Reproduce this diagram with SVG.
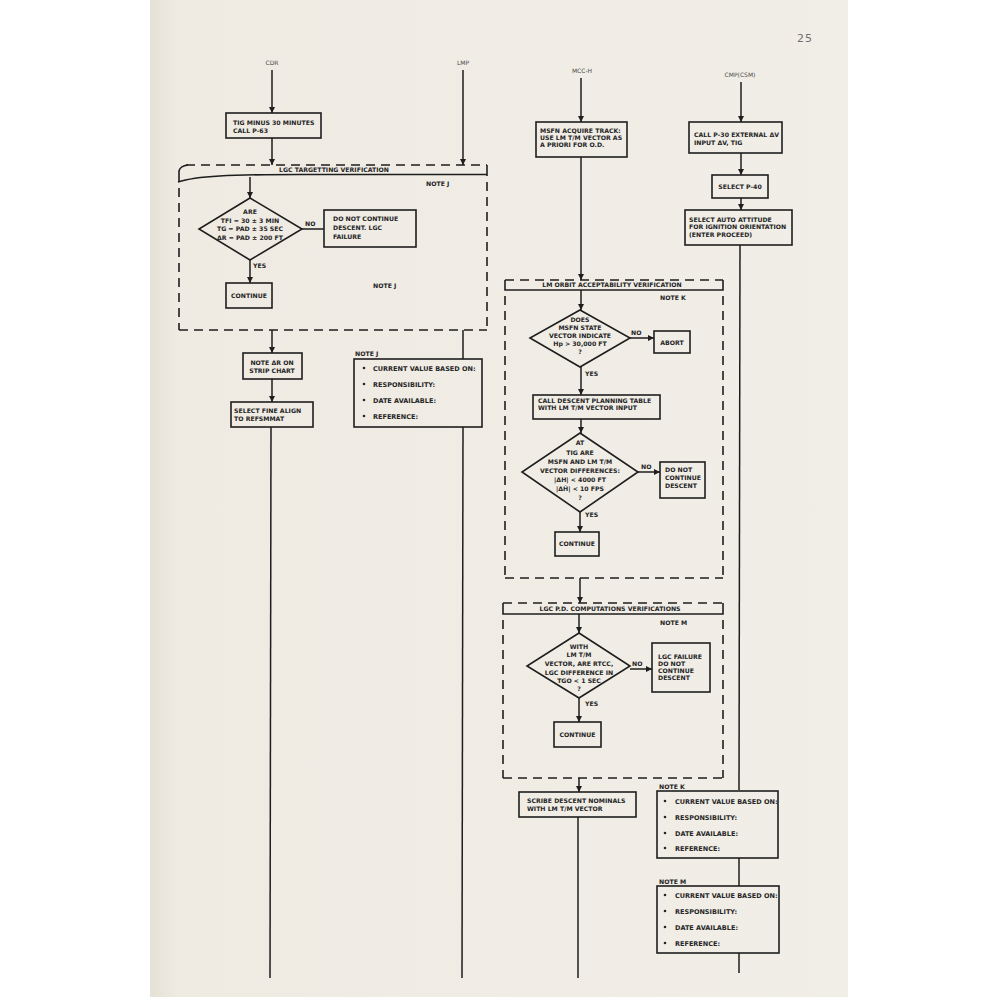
<svg xmlns="http://www.w3.org/2000/svg" width="1000" height="1000" viewBox="0 0 1000 1000">
<defs>
<marker id="arr" markerUnits="userSpaceOnUse" markerWidth="8" markerHeight="8" refX="6" refY="3" orient="auto">
<path d="M0,0 L6,3 L0,6 z" fill="#1e1e1e"/>
</marker>
<linearGradient id="shade" x1="0" x2="1" y1="0" y2="0">
<stop offset="0" stop-color="#e6e1d6"/>
<stop offset="0.04" stop-color="#efebe3"/>
<stop offset="1" stop-color="#f1eee7"/>
</linearGradient>
</defs>
<style>
.t{font-family:"DejaVu Sans","Liberation Sans",sans-serif;font-weight:bold;font-size:6.2px;fill:#262626}
.n{font-size:6.5px}
.c{text-anchor:middle}
.lab{font-family:"DejaVu Sans","Liberation Sans",sans-serif;font-size:6px;fill:#4a4a4a;text-anchor:middle}
.box{fill:none;stroke:#1e1e1e;stroke-width:1.6}
.ln{fill:none;stroke:#1e1e1e;stroke-width:1.5}
.dash{fill:none;stroke:#1e1e1e;stroke-width:1.6;stroke-dasharray:9,6}
.blt{fill:#262626}
</style>
<rect x="0" y="0" width="1000" height="1000" fill="#ffffff"/>
<rect x="150" y="0" width="698" height="997" fill="url(#shade)"/>
<text x="805" y="42" font-family="DejaVu Sans, sans-serif" font-size="11" fill="#707070" text-anchor="middle" letter-spacing="1">25</text>

<g id="lane-labels">
<text class="lab" x="272" y="65">CDR</text>
<text class="lab" x="463" y="65">LMP</text>
<text class="lab" x="582" y="73">MCC-H</text>
<text class="lab" x="740" y="77">CMP(CSM)</text>
</g>

<g id="connectors">
<!-- CDR -->
<line class="ln" x1="272" y1="70" x2="272" y2="113" marker-end="url(#arr)"/>
<line class="ln" x1="272" y1="138" x2="272" y2="165" marker-end="url(#arr)"/>
<line class="ln" x1="250" y1="177" x2="250" y2="198" marker-end="url(#arr)"/>
<line class="ln" x1="302" y1="229" x2="324" y2="229"/>
<line class="ln" x1="250" y1="260" x2="250" y2="283" marker-end="url(#arr)"/>
<line class="ln" x1="272" y1="330" x2="272" y2="353" marker-end="url(#arr)"/>
<line class="ln" x1="272" y1="379" x2="272" y2="402" marker-end="url(#arr)"/>
<line class="ln" x1="271" y1="427" x2="270" y2="978"/>
<!-- LMP -->
<line class="ln" x1="463" y1="70" x2="463" y2="165" marker-end="url(#arr)"/>
<line class="ln" x1="463" y1="330" x2="463" y2="359"/>
<line class="ln" x1="463" y1="427" x2="462" y2="978"/>
<!-- MCC-H -->
<line class="ln" x1="581" y1="78" x2="581" y2="122" marker-end="url(#arr)"/>
<line class="ln" x1="581" y1="157" x2="581" y2="280" marker-end="url(#arr)"/>
<line class="ln" x1="581" y1="290" x2="581" y2="310" marker-end="url(#arr)"/>
<line class="ln" x1="630" y1="338" x2="654" y2="338" marker-end="url(#arr)"/>
<line class="ln" x1="581" y1="367" x2="581" y2="395" marker-end="url(#arr)"/>
<line class="ln" x1="581" y1="419" x2="581" y2="433" marker-end="url(#arr)"/>
<line class="ln" x1="638" y1="472" x2="660" y2="472" marker-end="url(#arr)"/>
<line class="ln" x1="580" y1="512" x2="580" y2="532" marker-end="url(#arr)"/>
<line class="ln" x1="580" y1="578" x2="580" y2="603" marker-end="url(#arr)"/>
<line class="ln" x1="579" y1="614" x2="579" y2="633" marker-end="url(#arr)"/>
<line class="ln" x1="630" y1="669" x2="652" y2="669" marker-end="url(#arr)"/>
<line class="ln" x1="579" y1="698" x2="579" y2="722" marker-end="url(#arr)"/>
<line class="ln" x1="579" y1="778" x2="579" y2="792" marker-end="url(#arr)"/>
<line class="ln" x1="578" y1="817" x2="578" y2="978"/>
<!-- CMP -->
<line class="ln" x1="741" y1="82" x2="741" y2="122" marker-end="url(#arr)"/>
<line class="ln" x1="741" y1="153" x2="741" y2="175" marker-end="url(#arr)"/>
<line class="ln" x1="741" y1="198" x2="741" y2="210" marker-end="url(#arr)"/>
<line class="ln" x1="740" y1="245" x2="739" y2="790"/>
<line class="ln" x1="739" y1="858" x2="739" y2="886"/>
<line class="ln" x1="739" y1="953" x2="739" y2="973"/>
</g>

<g id="lgc-targetting-group">
<line class="dash" x1="186" y1="165" x2="487" y2="165"/>
<path class="box" d="M487,165 L487,176"/>
<path class="box" d="M178,182 C196,176 230,174.5 300,174.5 L487,174.5"/>
<path class="box" d="M179,182 L179,171 Q180,166 188,165"/>
<line class="dash" x1="179" y1="188" x2="179" y2="330"/>
<line class="dash" x1="487" y1="182" x2="487" y2="330"/>
<line class="dash" x1="179" y1="330" x2="487" y2="330"/>
<text class="t c" x="334" y="172">LGC TARGETTING VERIFICATION</text>
<text class="t" x="426" y="186">NOTE J</text>
<text class="t" x="373" y="288">NOTE J</text>
</g>

<g id="n-tig"><rect class="box" x="226" y="113" width="95" height="25"/>
<text class="t" x="233" y="125">TIG MINUS 30 MINUTES</text><text class="t" x="233" y="133">CALL P-63</text></g>

<g id="d-are"><polygon class="box" points="250,198 302,229 250,260 199,229"/>
<text class="t c" x="250" y="214">ARE</text>
<text class="t c" x="250" y="223">TFI = 30 ± 3 MIN</text>
<text class="t c" x="250" y="231">TG = PAD ± 35 SEC</text>
<text class="t c" x="250" y="240">ΔR = PAD ± 200 FT</text>
<text class="t" x="305" y="226">NO</text>
<text class="t" x="253" y="268">YES</text></g>

<g id="n-dnc-lgc"><rect class="box" x="324" y="210" width="92" height="37"/>
<text class="t" x="333" y="221">DO NOT CONTINUE</text><text class="t" x="333" y="230">DESCENT.  LGC</text><text class="t" x="333" y="239">FAILURE</text></g>

<g id="n-continue1"><rect class="box" x="226" y="283" width="46" height="25"/>
<text class="t c" x="249" y="298">CONTINUE</text></g>

<g id="n-note-dr"><rect class="box" x="243" y="353" width="59" height="26"/>
<text class="t c" x="272" y="365">NOTE ΔR ON</text><text class="t c" x="272" y="373">STRIP CHART</text></g>

<g id="n-fine-align"><rect class="box" x="231" y="402" width="82" height="25"/>
<text class="t" x="234" y="413">SELECT FINE ALIGN</text><text class="t" x="234" y="421">TO REFSMMAT</text></g>

<g id="note-j"><text class="t" x="355" y="356">NOTE J</text>
<rect class="box" x="354" y="359" width="128" height="68"/>
<circle class="blt" cx="364" cy="368" r="1.3"/><text class="t n" x="373" y="370.5">CURRENT VALUE BASED ON:</text>
<circle class="blt" cx="364" cy="384" r="1.3"/><text class="t n" x="373" y="386.5">RESPONSIBILITY:</text>
<circle class="blt" cx="364" cy="400" r="1.3"/><text class="t n" x="373" y="402.5">DATE AVAILABLE:</text>
<circle class="blt" cx="364" cy="416" r="1.3"/><text class="t n" x="373" y="418.5">REFERENCE:</text></g>

<g id="n-msfn"><rect class="box" x="536" y="122" width="91" height="35"/>
<text class="t" x="540" y="133">MSFN ACQUIRE TRACK:</text><text class="t" x="540" y="140">USE LM T/M VECTOR AS</text><text class="t" x="540" y="147">A PRIORI FOR O.D.</text></g>

<g id="n-p30"><rect class="box" x="689" y="122" width="93" height="31"/>
<text class="t" x="694" y="137">CALL P-30  EXTERNAL ΔV</text><text class="t" x="694" y="145">INPUT ΔV, TIG</text></g>

<g id="n-p40"><rect class="box" x="712" y="175" width="56" height="23"/>
<text class="t c" x="740" y="189">SELECT P-40</text></g>

<g id="n-auto-att"><rect class="box" x="685" y="210" width="107" height="35"/>
<text class="t" x="689" y="222">SELECT AUTO ATTITUDE</text><text class="t" x="689" y="229">FOR IGNITION ORIENTATION</text><text class="t" x="689" y="237">(ENTER PROCEED)</text></g>

<g id="lm-orbit-group">
<line class="dash" x1="505" y1="280" x2="723" y2="280"/>
<path class="box" d="M505,280 L505,290 L723,290 L723,280"/>
<line class="dash" x1="505" y1="296" x2="505" y2="578"/>
<line class="dash" x1="723" y1="296" x2="723" y2="578"/>
<line class="dash" x1="505" y1="578" x2="723" y2="578"/>
<text class="t c" x="612" y="287">LM ORBIT ACCEPTABILITY VERIFICATION</text>
<text class="t" x="660" y="300">NOTE K</text>
</g>

<g id="d-hp"><polygon class="box" points="580,310 630,338 580,367 530,338"/>
<text class="t c" x="580" y="322">DOES</text>
<text class="t c" x="580" y="330">MSFN STATE</text>
<text class="t c" x="580" y="338">VECTOR INDICATE</text>
<text class="t c" x="580" y="346">Hp &gt; 30,000 FT</text>
<text class="t c" x="580" y="354">?</text>
<text class="t" x="631" y="335">NO</text>
<text class="t" x="585" y="376">YES</text></g>

<g id="n-abort"><rect class="box" x="654" y="331" width="36" height="22"/>
<text class="t c" x="672" y="345">ABORT</text></g>

<g id="n-planning"><rect class="box" x="533" y="395" width="127" height="24"/>
<text class="t" x="538" y="403">CALL DESCENT PLANNING TABLE</text><text class="t" x="538" y="410">WITH LM T/M VECTOR INPUT</text></g>

<g id="d-tig"><polygon class="box" points="580,433 638,472 580,512 522,472"/>
<text class="t c" x="580" y="445">AT</text>
<text class="t c" x="580" y="455">TIG ARE</text>
<text class="t c" x="580" y="464">MSFN AND LM T/M</text>
<text class="t c" x="580" y="473">VECTOR DIFFERENCES:</text>
<text class="t c" x="580" y="482">|ΔH| &lt; 4000 FT</text>
<text class="t c" x="580" y="491">|ΔḢ| &lt; 10 FPS</text>
<text class="t c" x="580" y="500">?</text>
<text class="t" x="641" y="469">NO</text>
<text class="t" x="585" y="517">YES</text></g>

<g id="n-dnc2"><rect class="box" x="660" y="462" width="45" height="36"/>
<text class="t" x="665" y="472">DO NOT</text><text class="t" x="665" y="480">CONTINUE</text><text class="t" x="665" y="488">DESCENT</text></g>

<g id="n-continue2"><rect class="box" x="555" y="532" width="44" height="24"/>
<text class="t c" x="577" y="546">CONTINUE</text></g>

<g id="lgc-pd-group">
<line class="dash" x1="503" y1="603" x2="723" y2="603"/>
<path class="box" d="M503,603 L503,614 L723,614 L723,603"/>
<line class="dash" x1="503" y1="620" x2="503" y2="778"/>
<line class="dash" x1="723" y1="620" x2="723" y2="778"/>
<line class="dash" x1="503" y1="778" x2="723" y2="778"/>
<text class="t c" x="610" y="611">LGC P.D. COMPUTATIONS VERIFICATIONS</text>
<text class="t" x="660" y="625">NOTE M</text>
</g>

<g id="d-tgo"><polygon class="box" points="579,633 630,666 579,698 527,666"/>
<text class="t c" x="579" y="649">WITH</text>
<text class="t c" x="579" y="657">LM T/M</text>
<text class="t c" x="579" y="666">VECTOR, ARE RTCC,</text>
<text class="t c" x="579" y="675">LGC DIFFERENCE IN</text>
<text class="t c" x="579" y="683">TGO &lt; 1 SEC</text>
<text class="t c" x="579" y="691">?</text>
<text class="t" x="632" y="666">NO</text>
<text class="t" x="585" y="706">YES</text></g>

<g id="n-lgc-fail"><rect class="box" x="652" y="643" width="58" height="49"/>
<text class="t" x="658" y="659">LGC FAILURE</text><text class="t" x="658" y="666">DO NOT</text><text class="t" x="658" y="673">CONTINUE</text><text class="t" x="658" y="680">DESCENT</text></g>

<g id="n-continue3"><rect class="box" x="554" y="722" width="47" height="25"/>
<text class="t c" x="577.5" y="737">CONTINUE</text></g>

<g id="n-scribe"><rect class="box" x="519" y="792" width="117" height="25"/>
<text class="t" x="527" y="803">SCRIBE DESCENT NOMINALS</text><text class="t" x="527" y="811">WITH LM T/M VECTOR</text></g>

<g id="note-k"><text class="t" x="659" y="789">NOTE K</text>
<rect class="box" x="657" y="791" width="121" height="67"/>
<circle class="blt" cx="665" cy="801" r="1.3"/><text class="t n" x="675" y="803.5">CURRENT VALUE BASED ON:</text>
<circle class="blt" cx="665" cy="817" r="1.3"/><text class="t n" x="675" y="819.5">RESPONSIBILITY:</text>
<circle class="blt" cx="665" cy="833" r="1.3"/><text class="t n" x="675" y="835.5">DATE AVAILABLE:</text>
<circle class="blt" cx="665" cy="848" r="1.3"/><text class="t n" x="675" y="850.5">REFERENCE:</text></g>

<g id="note-m"><text class="t" x="659" y="884">NOTE M</text>
<rect class="box" x="657" y="886" width="122" height="67"/>
<circle class="blt" cx="665" cy="895" r="1.3"/><text class="t n" x="675" y="897.5">CURRENT VALUE BASED ON:</text>
<circle class="blt" cx="665" cy="911" r="1.3"/><text class="t n" x="675" y="913.5">RESPONSIBILITY:</text>
<circle class="blt" cx="665" cy="927" r="1.3"/><text class="t n" x="675" y="929.5">DATE AVAILABLE:</text>
<circle class="blt" cx="665" cy="943" r="1.3"/><text class="t n" x="675" y="945.5">REFERENCE:</text></g>
</svg>
